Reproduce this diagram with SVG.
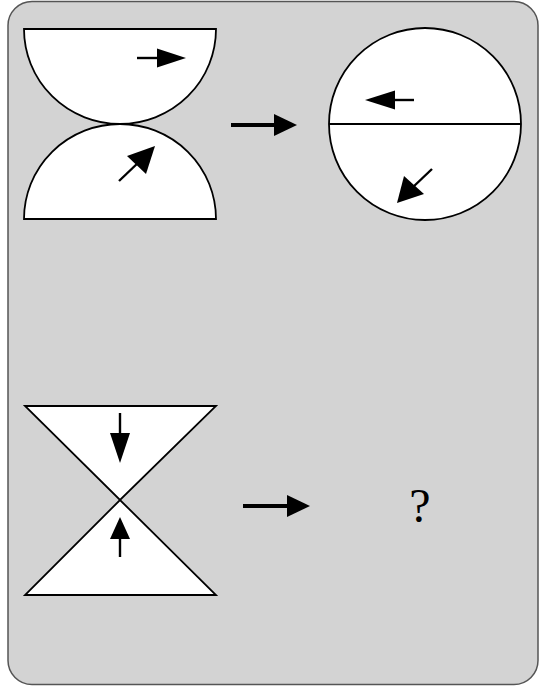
<svg xmlns="http://www.w3.org/2000/svg" width="540" height="686" viewBox="0 0 540 686">
<style>
.shape{fill:#fff;stroke:#000;stroke-width:1.8}
.sa{stroke:#000;stroke-width:2.4;fill:none}
.ba{stroke:#000;stroke-width:4;fill:none}
.hd{fill:#000}
</style>
<rect x="8" y="1.5" width="530" height="683" rx="24" ry="24" fill="#d3d3d3" stroke="#555" stroke-width="1.5"/>
<g id="fig1">
<path class="shape" d="M24 29 H216 A96 95 0 0 1 24 29 Z"/>
<path class="shape" d="M24 219 H216 A96 95 0 0 0 24 219 Z"/>
<line class="sa" x1="137" y1="58" x2="160" y2="58"/>
<polygon class="hd" points="186,58 157,48.5 157,67.5"/>
<line class="sa" x1="119" y1="181" x2="140" y2="161"/>
<polygon class="hd" points="155,146 146,174 127,156"/>
</g>
<g id="fig2">
<circle class="shape" cx="425" cy="124" r="96"/>
<line x1="329" y1="124" x2="521" y2="124" stroke="#000" stroke-width="1.8"/>
<line class="sa" x1="414" y1="100" x2="392" y2="100"/>
<polygon class="hd" points="365,100 395,90.5 395,109.5"/>
<line class="sa" x1="432" y1="169" x2="412" y2="188"/>
<polygon class="hd" points="397,203 404,176 424,194"/>
</g>
<g id="fig3">
<polygon class="shape" points="25,406 216,406 120,500"/>
<polygon class="shape" points="25,595 216,595 120,500"/>
<line class="sa" x1="120" y1="413" x2="120" y2="436"/>
<polygon class="hd" points="120,463 110,433 130,433"/>
<line class="sa" x1="120" y1="557" x2="120" y2="536"/>
<polygon class="hd" points="120,517 110,539 130,539"/>
</g>
<g id="q">
<text x="420" y="522" font-family="Liberation Serif, serif" font-size="48" text-anchor="middle">?</text>
</g>
<g id="connectors">
<line class="ba" x1="231" y1="125" x2="278" y2="125"/>
<polygon class="hd" points="297,125 274,114 274,136"/>
<line class="ba" x1="243" y1="506" x2="290" y2="506"/>
<polygon class="hd" points="310,506 287,495 287,517"/>
</g>
</svg>
